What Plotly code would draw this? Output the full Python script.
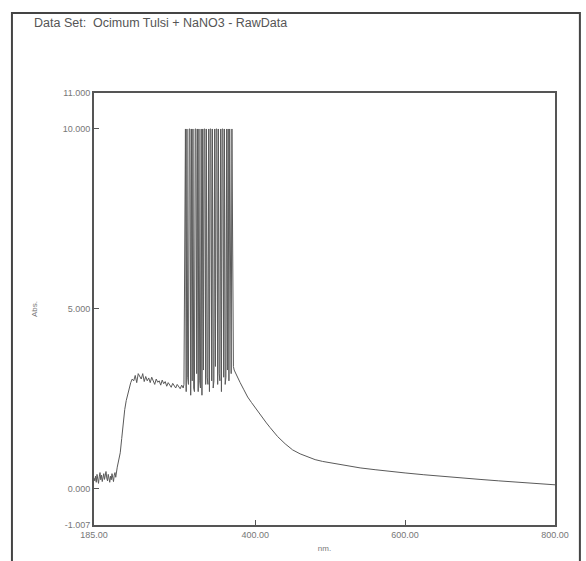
import plotly.graph_objects as go

# ---- data ----
wl_base = list(range(185, 216))
abs_base = [0.30, 0.22, 0.35, 0.18, 0.40, 0.28, 0.15, 0.33, 0.45, 0.25,
            0.38, 0.20, 0.30, 0.42, 0.26, 0.35, 0.48, 0.30, 0.22, 0.40,
            0.28, 0.18, 0.35, 0.25, 0.42, 0.30, 0.20, 0.38, 0.45, 0.32, 0.50]

wl_rise = [216, 218, 220, 222, 224, 226, 228, 230, 232, 234, 236]
abs_rise = [0.6, 0.8, 1.0, 1.4, 1.9, 2.2, 2.45, 2.65, 2.8, 2.95, 3.05]

wl_plateau = list(range(238, 305, 2))
abs_plateau = [3.0, 3.15, 2.95, 3.2, 3.1, 3.05, 3.2, 2.98, 3.12, 3.0,
               3.08, 2.95, 3.1, 3.02, 2.9, 3.05, 2.96, 3.0, 2.88, 3.02,
               2.92, 2.98, 2.85, 2.95, 2.9, 2.82, 2.93, 2.86, 2.8, 2.9,
               2.84, 2.78, 2.88, 2.8]

wl_spike = list(range(305, 373))
abs_spike = [2.9, 10, 10, 2.7, 10, 3.1, 2.9, 10, 10, 2.6,
             10, 3.0, 10, 2.8, 2.7, 10, 10, 3.2, 10, 2.7,
             10, 3.0, 2.8, 10, 2.6, 10, 3.3, 10, 10, 2.9,
             10, 3.1, 2.9, 10, 2.7, 10, 10, 3.0, 10, 2.8,
             3.0, 10, 3.4, 10, 10, 2.9, 10, 3.2, 3.0, 10,
             2.7, 10, 10, 3.1, 10, 2.9, 3.1, 10, 3.3, 10,
             3.0, 10, 3.5, 3.2, 10, 3.6, 3.4, 3.3]

wl_decay = [375, 380, 385, 390, 395, 400, 405, 410, 415, 420,
            425, 430, 440, 450, 460, 470, 480, 490, 500, 520,
            540, 560, 580, 600, 625, 650, 675, 700, 725, 750,
            775, 800]
abs_decay = [3.15, 2.95, 2.75, 2.55, 2.4, 2.25, 2.12, 1.97, 1.83, 1.7,
             1.57, 1.45, 1.25, 1.08, 0.97, 0.88, 0.81, 0.76, 0.72, 0.64,
             0.58, 0.53, 0.48, 0.44, 0.39, 0.34, 0.30, 0.26, 0.22, 0.18,
             0.14, 0.11]

wavelength = wl_base + wl_rise + wl_plateau + wl_spike + wl_decay
absorbance = abs_base + abs_rise + abs_plateau + abs_spike + abs_decay

x_ticks = [185, 400, 600, 800]
x_tick_text = ["185.00", "400.00", "600.00", "800.00"]
y_ticks = [-1.007, 0, 5, 10, 11]
y_tick_text = ["-1.007", "0.000", "5.000", "10.000", "11.000"]

FONT = "Liberation Sans, Arial"

fig = go.Figure()
fig.add_trace(go.Scatter(x=wavelength, y=absorbance, mode="lines",
                         line=dict(color="#5a5a5a", width=1),
                         hoverinfo="skip", showlegend=False))

axis_common = dict(showgrid=False, zeroline=False, showline=True,
                   linecolor="#555555", linewidth=2, mirror=True,
                   ticks="inside", ticklen=5, tickcolor="#555555",
                   tickfont=dict(family=FONT, size=9, color="#777777"))

fig.update_xaxes(range=[185, 800], tickvals=x_ticks, ticktext=x_tick_text,
                 title=dict(text="nm.", font=dict(family=FONT, size=8, color="#777777"),
                            standoff=7),
                 **axis_common)
fig.update_yaxes(range=[-1.007, 11.0], tickvals=y_ticks, ticktext=y_tick_text,
                 title=dict(text="Abs.", font=dict(family=FONT, size=8, color="#777777"),
                            standoff=24),
                 **axis_common)

fig.update_layout(
    width=586, height=561,
    margin=dict(l=94, r=31, t=93, b=36, autoexpand=False),
    paper_bgcolor="white", plot_bgcolor="white",
    shapes=[dict(type="path", xref="paper", yref="paper",
                 path="M -0.178 -0.2 L -0.178 1.185 L 1.054 1.185 L 1.054 -0.2",
                 line=dict(color="#444444", width=2))],
    annotations=[dict(text="Data Set:  Ocimum Tulsi + NaNO3 - RawData",
                      xref="paper", yref="paper", x=-0.135, y=1.163,
                      xanchor="left", yanchor="middle", showarrow=False,
                      font=dict(family=FONT, size=12.5, color="#555555"))],
)

fig.write_html("out.html")
